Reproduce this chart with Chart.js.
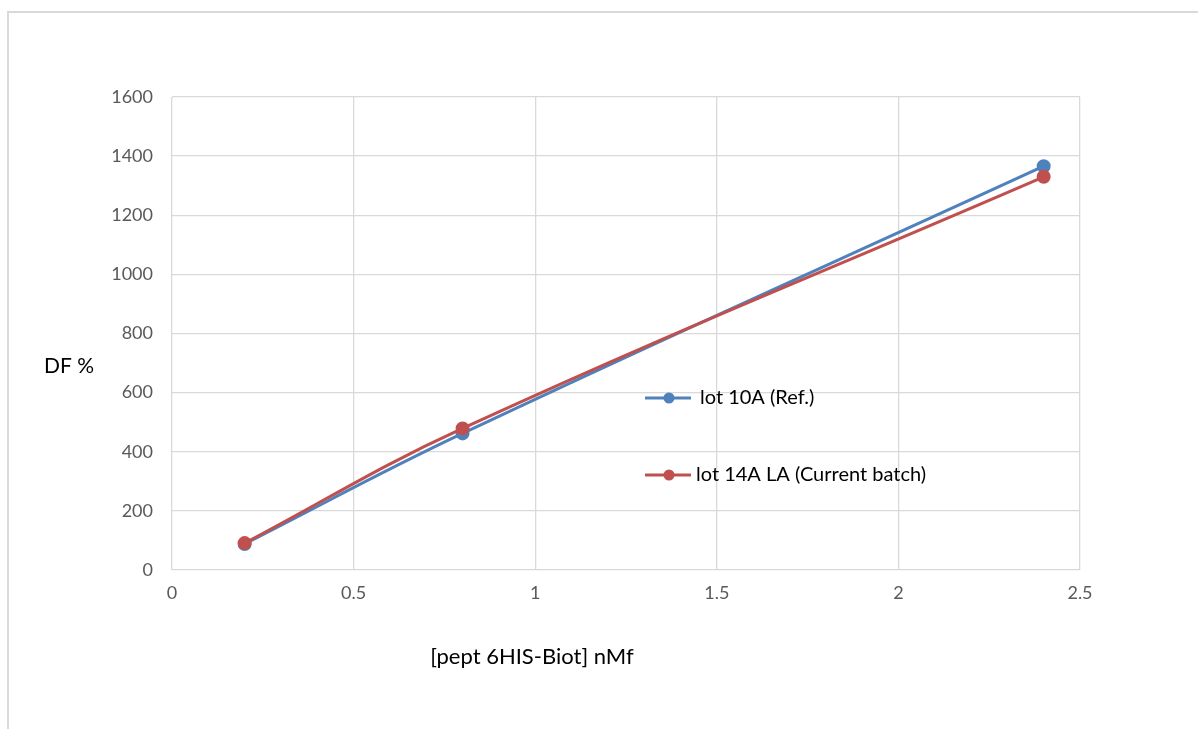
<!DOCTYPE html>
<html>
<head>
<meta charset="utf-8">
<script src="https://cdn.jsdelivr.net/npm/chart.js@4"></script>
<style>
html,body{margin:0;padding:0;background:#fff;overflow:hidden;}
#frame{position:absolute;left:7px;top:11px;width:1300px;height:800px;border:2px solid #d9d9d9;box-sizing:border-box;}
#wrap{position:absolute;left:0;top:0;width:1198px;height:729px;}
</style>
</head>
<body>
<div id="frame"></div>
<div id="wrap"><canvas id="c" width="1198" height="729"></canvas></div>
<script>
const seriesNames = ["lot 10A (Ref.)", "lot 14A LA (Current batch)"];
const xValues = [0.2, 0.8, 2.4];
const lot10A = [88, 462, 1366];
const lot14A = [91, 479, 1330];
const colors = ["#4f81bd", "#c0504d"];
const xTitle = "[pept 6HIS-Biot] nMf";
const yTitle = "DF %";

const FONT = "Lato, 'Open Sans', sans-serif";

const textPlugin = {
  id: 'texts',
  afterDraw(chart) {
    const ctx = chart.ctx;
    ctx.save();
    ctx.fillStyle = "#000";
    ctx.font = "21px " + FONT;
    ctx.textBaseline = "middle";
    ctx.textAlign = "left";
    ctx.fillText(yTitle, 44, 366);
    ctx.font = "22px " + FONT;
    ctx.textAlign = "center";
    ctx.fillText(xTitle, 532, 657);
    // legend
    const items = [{y: 398, tx: 700}, {y: 475, tx: 696}];
    ctx.font = "20px " + FONT;
    ctx.textAlign = "left";
    items.forEach((it, i) => {
      ctx.strokeStyle = colors[i];
      ctx.lineWidth = 3;
      ctx.beginPath();
      ctx.moveTo(645, it.y);
      ctx.lineTo(691, it.y);
      ctx.stroke();
      ctx.fillStyle = colors[i];
      ctx.beginPath();
      ctx.arc(669, it.y, 5.5, 0, Math.PI * 2);
      ctx.fill();
      ctx.fillStyle = "#000";
      ctx.fillText(seriesNames[i], it.tx, it.y);
    });
    ctx.restore();
  }
};

function pts(ys) { return xValues.map((x, i) => ({x: x, y: ys[i]})); }

new Chart(document.getElementById('c'), {
  type: 'scatter',
  data: {
    datasets: [
      {label: seriesNames[0], order: 2, data: pts(lot10A), showLine: true, borderColor: colors[0], backgroundColor: colors[0], borderWidth: 3, pointRadius: 5.5, pointHoverRadius: 5.5, tension: 0.4},
      {label: seriesNames[1], order: 1, data: pts(lot14A), showLine: true, borderColor: colors[1], backgroundColor: colors[1], borderWidth: 3, pointRadius: 5.5, pointHoverRadius: 5.5, tension: 0.4}
    ]
  },
  options: {
    responsive: false,
    animation: false,
    events: [],
    layout: {padding: {left: 0, top: 97, right: 118, bottom: 119}},
    plugins: {legend: {display: false}, tooltip: {enabled: false}},
    scales: {
      x: {
        type: 'linear', min: 0, max: 2.5,
        ticks: {stepSize: 0.5, color: "#595959", font: {family: FONT, size: 18}, padding: 12, callback: v => String(v)},
        grid: {color: "#d9d9d9", lineWidth: 1.3, drawTicks: false},
        border: {display: false},
        afterFit(s) { s.height = 40; }
      },
      y: {
        min: 0, max: 1600,
        ticks: {stepSize: 200, color: "#595959", font: {family: FONT, size: 18}, padding: 19, callback: v => String(v)},
        grid: {color: "#d9d9d9", lineWidth: 1.3, drawTicks: false},
        border: {display: false},
        afterFit(s) { s.width = 172; }
      }
    }
  },
  plugins: [textPlugin]
});
</script>
</body>
</html>
